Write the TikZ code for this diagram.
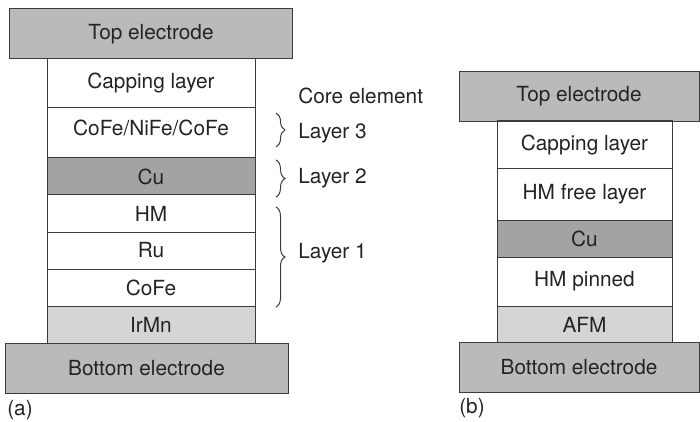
\documentclass[tikz,border=0pt]{standalone}
\usepackage{fontspec}
\setmainfont{TeX Gyre Heros}
\usetikzlibrary{decorations.pathreplacing}
\definecolor{electrodegray}{RGB}{186,186,188}
\definecolor{cugray}{RGB}{163,163,165}
\definecolor{afmgray}{RGB}{212,213,215}
\definecolor{edgegray}{RGB}{60,60,60}
\definecolor{textgray}{RGB}{35,35,35}

\begin{document}
\begin{tikzpicture}[x=0.5pt, y=-0.5pt,
    layer/.style={draw=edgegray, line width=0.5pt, inner sep=0pt,
      text=textgray, font=\fontsize{10.4}{12}\selectfont},
    electrode/.style={layer, fill=electrodegray, minimum height=25pt},
    braceline/.style={draw=edgegray, line width=0.5pt, decorate,
      decoration={brace, amplitude=4.5pt}},
    tag/.style={text=textgray, font=\fontsize{10.4}{12}\selectfont, inner sep=0pt}]
    \useasboundingbox (0,0) rectangle (700,422);

    % (a) Stack
    \node[electrode, minimum width=141.5pt] (topA) at (151,34) {Top electrode};
    \node[layer, minimum width=104pt, minimum height=24.5pt] (capA) at (151,83.5) {Capping layer};
    \node[layer, minimum width=104pt, minimum height=25pt, text depth=5pt] (cofeA) at (151,133) {CoFe/NiFe/CoFe};
    \node[layer, fill=cugray, minimum width=104pt, minimum height=18.5pt] (cuA) at (151,176.5) {Cu};
    \node[layer, minimum width=104pt, minimum height=18.5pt] (hmA) at (151,213.5) {HM};
    \node[layer, minimum width=104pt, minimum height=18.5pt] (ruA) at (151,250.5) {Ru};
    \node[layer, minimum width=104pt, minimum height=18.5pt] (cofebA) at (151,287.5) {CoFe};
    \node[layer, fill=afmgray, minimum width=104pt, minimum height=18.5pt] (irmnA) at (151,324.5) {IrMn};
    \node[electrode, minimum width=141.5pt] (botA) at (146.5,368) {Bottom electrode};
    \node[tag] (labA) at (20,410) {(a)};

    % Braces
    \coordinate (l3top) at (276,113);
    \coordinate (l3bot) at (276,147);
    \coordinate (l2top) at (276,160);
    \coordinate (l2bot) at (276,197);
    \coordinate (l1top) at (276,207);
    \coordinate (l1bot) at (276,307);
    \draw[braceline] (l3top) -- (l3bot);
    \draw[braceline] (l2top) -- (l2bot);
    \draw[braceline] (l1top) -- (l1bot);
    \node[tag, anchor=west] (core) at (298,96) {Core element};
    \node[tag, anchor=west] (lay3) at (298,133) {Layer 3};
    \node[tag, anchor=west] (lay2) at (298,178) {Layer 2};
    \node[tag, anchor=west] (lay1) at (298,253) {Layer 1};

    % (b) Stack
    \node[electrode, minimum width=120pt] (topB) at (579,96.5) {Top electrode};
    \node[layer, minimum width=87.5pt, minimum height=24pt] (capB) at (584.5,145) {Capping layer};
    \node[layer, minimum width=87.5pt, minimum height=25.5pt] (freeB) at (584.5,194.5) {HM free layer};
    \node[layer, fill=cugray, minimum width=87.5pt, minimum height=18.5pt] (cuB) at (584.5,238.5) {Cu};
    \node[layer, minimum width=87.5pt, minimum height=24.5pt] (pinB) at (584.5,281.5) {HM pinned};
    \node[layer, fill=afmgray, minimum width=87.5pt, minimum height=18.5pt] (afmB) at (584.5,324.5) {AFM};
    \node[electrode, minimum width=120pt] (botB) at (579,367.5) {Bottom electrode};
    \node[tag] (labB) at (472,408) {(b)};

\end{tikzpicture}
\end{document}
